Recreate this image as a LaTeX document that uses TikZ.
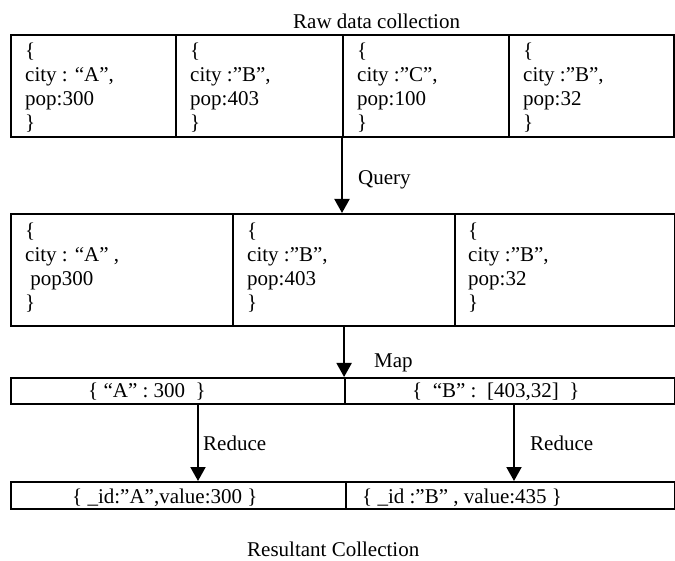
\documentclass[tikz,border=0pt]{standalone}
\usepackage{fontspec}
\setmainfont{Liberation Serif}
\usetikzlibrary{arrows.meta}

% one text block per cell, first baseline at the node's base
\newcommand{\lines}[1]{\begin{tabular}[t]{@{}l@{}}#1\end{tabular}}

\begin{document}
\begin{tikzpicture}[x=1pt,y=-1pt,
  cell/.style={draw, line width=2.2pt, rectangle, inner sep=0pt, anchor=north west},
  txt/.style={anchor=base west, inner sep=0pt, font=\fontsize{21}{24}\selectfont},
  flow/.style={line width=2pt, -{Triangle[width=15pt,length=14pt]}},
]
\useasboundingbox (0,0) rectangle (675,561);

% raw data collection
\node[txt] (rawtitle) at (293,29) {Raw data collection};
\node[cell, minimum width=165pt, minimum height=102pt] (r1) at (10,34) {};
\node[cell, minimum width=167pt, minimum height=102pt] (r2) at (175,34) {};
\node[cell, minimum width=166pt, minimum height=102pt] (r3) at (342,34) {};
\node[cell, minimum width=165pt, minimum height=102pt] (r4) at (508,34) {};
\node[txt] (tr1) at (25,58)  {\lines{\{\\city : “A”,\\pop:300\\\}}};
\node[txt] (tr2) at (190,58) {\lines{\{\\city :”B”,\\pop:403\\\}}};
\node[txt] (tr3) at (357,58) {\lines{\{\\city :”C”,\\pop:100\\\}}};
\node[txt] (tr4) at (523,58) {\lines{\{\\city :”B”,\\pop:32\\\}}};

% query result
\node[cell, minimum width=222pt, minimum height=112pt] (s1) at (10,213) {};
\node[cell, minimum width=222pt, minimum height=112pt] (s2) at (232,213) {};
\node[cell, minimum width=220pt, minimum height=112pt] (s3) at (454,213) {};
\node[txt] (ts1) at (25,238)  {\lines{\{\\city : “A” ,\\\ pop300\\\}}};
\node[txt] (ts2) at (247,238) {\lines{\{\\city :”B”,\\pop:403\\\}}};
\node[txt] (ts3) at (468,238) {\lines{\{\\city :”B”,\\pop:32\\\}}};

\draw[flow] (r3.south west) -- (r3.south west |- s2.north);
\node[txt] (query) at (358,185) {Query};

% map output
\node[cell, minimum width=334pt, minimum height=26pt] (m1) at (10,377) {};
\node[cell, minimum width=330pt, minimum height=26pt] (m2) at (344,377) {};
\node[txt] (tm1) at (88,398)  {\{ “A” : 300~ \}};
\node[txt] (tm2) at (412,398) {\{~ “B” :~ [403,32]~ \}};

\draw[flow] (s2.south) -- (s2.south |- m1.north);
\node[txt] (map) at (374,368) {Map};

% reduce output
\node[cell, minimum width=335pt, minimum height=27pt] (b1) at (10,481) {};
\node[cell, minimum width=329pt, minimum height=27pt] (b2) at (345,481) {};
\node[txt] (tb1) at (72,503)  {\{ \_id:”A”,value:300 \}};
\node[txt] (tb2) at (362,503) {\{ \_id :”B” , value:435 \}};

\coordinate (ra) at (198,0);
\coordinate (rb) at (514,0);
\draw[flow] (m1.south -| ra) -- (b1.north -| ra);
\draw[flow] (m2.south -| rb) -- (b2.north -| rb);
\node[txt] (reda) at (203,450) {Reduce};
\node[txt] (redb) at (530,450) {Reduce};

\node[txt] (restitle) at (247,556) {Resultant Collection};
\end{tikzpicture}
\end{document}
